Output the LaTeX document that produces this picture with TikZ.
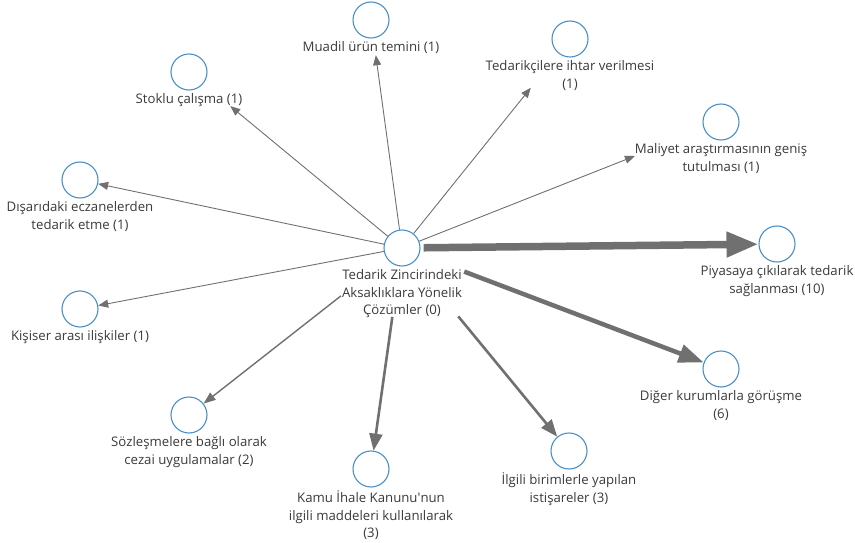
\documentclass[tikz,border=0pt]{standalone}
\usepackage{fontspec}
\setmainfont{Open Sans}
\usetikzlibrary{positioning,arrows.meta}

\definecolor{ringblue}{HTML}{4A90C8}
\definecolor{edgegray}{HTML}{707070}
\definecolor{txtgray}{HTML}{3A3A3A}

\begin{document}
\begin{tikzpicture}[x=1pt,y=-1pt,
	code/.style={circle,draw=ringblue,line width=1.1pt,fill=white,minimum size=36pt,inner sep=0pt},
	lbl/.style={font=\fontsize{13.2}{17.5}\selectfont,text=txtgray,align=center,inner sep=0pt},
	w1/.style={draw=edgegray,line width=0.9pt,-{Triangle[length=10pt,width=8pt]}},
	w2/.style={draw=edgegray,line width=1.4pt,-{Triangle[length=12pt,width=9pt]}},
	w3/.style={draw=edgegray,line width=2.6pt,-{Triangle[length=17pt,width=13pt]}},
	w6/.style={draw=edgegray,line width=4.5pt,-{Triangle[length=25pt,width=18pt]}},
	w10/.style={draw=edgegray,line width=7.5pt,-{Triangle[length=32pt,width=24pt]}}]

	\useasboundingbox (0,0) rectangle (855,543);

	% codes
	\node[code] (hub) at (402,248) {};
	\node[lbl,below=3pt of hub] (hub-t) {Tedarik Zincirindeki\\Aksaklıklara Yönelik\\Çözümler (0)};

	\node[code] (muadil) at (371,20) {};
	\node[lbl,below=3pt of muadil] (muadil-t) {Muadil ürün temini (1)};
	\node[code] (ihtar) at (570,39) {};
	\node[lbl,below=3pt of ihtar] (ihtar-t) {Tedarikçilere ihtar verilmesi\\(1)};
	\node[code] (stoklu) at (189,72) {};
	\node[lbl,below=3pt of stoklu] (stoklu-t) {Stoklu çalışma (1)};
	\node[code] (maliyet) at (721,122) {};
	\node[lbl,below=3pt of maliyet] (maliyet-t) {Maliyet araştırmasının geniş\\tutulması (1)};
	\node[code] (disari) at (80,180) {};
	\node[lbl,below=3pt of disari] (disari-t) {Dışarıdaki eczanelerden\\tedarik etme (1)};
	\node[code] (piyasa) at (777,244) {};
	\node[lbl,below=3pt of piyasa] (piyasa-t) {Piyasaya çıkılarak tedarik\\sağlanması (10)};
	\node[code] (kisiser) at (80,309) {};
	\node[lbl,below=3pt of kisiser] (kisiser-t) {Kişiser arası ilişkiler (1)};
	\node[code] (sozles) at (189,415) {};
	\node[lbl,below=3pt of sozles] (sozles-t) {Sözleşmelere bağlı olarak\\cezai uygulamalar (2)};
	\node[code] (kamu) at (371,469) {};
	\node[lbl,below=3pt of kamu] (kamu-t) {Kamu İhale Kanunu\textquotesingle nun\\ilgili maddeleri kullanılarak\\(3)};
	\node[code] (ilgili) at (569,451) {};
	\node[lbl,below=3pt of ilgili] (ilgili-t) {İlgili birimlerle yapılan\\istişareler (3)};
	\node[code] (diger) at (721,369) {};
	\node[lbl,below=3pt of diger] (diger-t) {Diğer kurumlarla görüşme\\(6)};

	% links, thickness by frequency
	\draw[w1,shorten >=17pt] (hub) -- (muadil);
	\draw[w1,shorten >=44pt] (hub) -- (ihtar);
	\draw[w1,shorten >=35pt] (hub) -- (stoklu);
	\draw[w1,shorten >=74pt] (hub) -- (maliyet);
	\draw[w1] (hub) -- (disari);
	\draw[w1] (hub) -- (kisiser);
	\draw[w2,shorten <=59pt] (hub) -- (sozles);
	\draw[w3,shorten <=51pt] (hub) -- (kamu);
	\draw[w3,shorten <=70pt] (hub) -- (ilgili);
	\draw[w6,shorten <=48pt] (hub) -- (diger);
	\draw[w10,shorten <=3pt] (hub) -- (piyasa);

\end{tikzpicture}
\end{document}
